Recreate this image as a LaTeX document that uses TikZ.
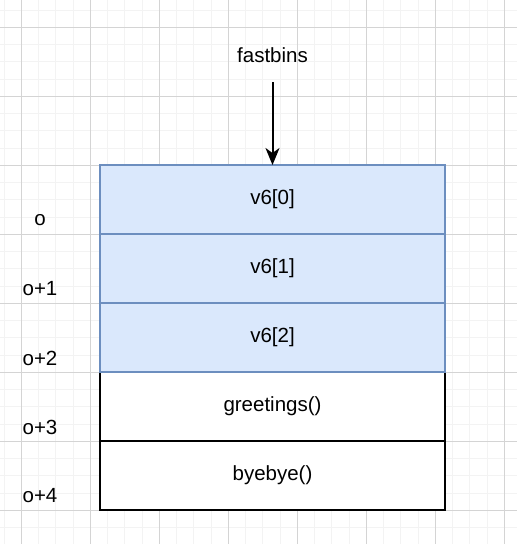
\documentclass[tikz,border=0pt]{standalone}
\usepackage{fontspec}
\setmainfont{Liberation Sans}
\usetikzlibrary{arrows.meta}

\definecolor{minorgrid}{HTML}{F3F3F3}
\definecolor{majorgrid}{HTML}{D4D4D4}
\definecolor{chunkfill}{HTML}{DAE8FC}
\definecolor{chunkline}{HTML}{6C8EBF}

\tikzset{
    txt/.style={font=\fontsize{20.5}{24}\selectfont},
    chunk/.style={txt, draw, line width=1.7pt, minimum width=345pt,
        minimum height=69pt, inner sep=0pt, outer sep=0pt},
    used/.style={chunk, fill=chunkfill, draw=chunkline},
    freed/.style={chunk, fill=white, draw=black},
}

\begin{document}
\begin{tikzpicture}[x=1pt,y=-1pt]
        \fill[white] (0,0) rectangle (517,544);
        \useasboundingbox (0,0) rectangle (517,544);
        % grid
        \foreach \i in {0,...,29} \draw[minorgrid, line width=1pt] (4.05+17.25*\i,0) -- (4.05+17.25*\i,544);
        \foreach \i in {0,...,30} \draw[minorgrid, line width=1pt] (0,10.05+17.25*\i) -- (517,10.05+17.25*\i);
        \foreach \i in {0,...,7} \draw[majorgrid, line width=1pt] (21.3+69*\i,0) -- (21.3+69*\i,544);
        \foreach \i in {0,...,7} \draw[majorgrid, line width=1pt] (0,27.3+69*\i) -- (517,27.3+69*\i);

        \node[freed] (greet) at (272.5,406.5) {greetings()};
        \node[freed] (bye) at (272.5,475.5) {byebye()};
        \node[used] (v0) at (272.5,199.5) {v6[0]};
        \node[used] (v1) at (272.5,268.5) {v6[1]};
        \node[used] (v2) at (272.5,337.5) {v6[2]};

        \node[txt] (fastbins) at (272.5,55) {fastbins};
        \coordinate (fbtail) at (272.5,82);
        \draw[line width=2pt, -{Stealth[length=17pt,width=14pt,inset=5pt]}] (fbtail) -- (v0.north);

        \node[txt] (o0) at (40,220) {o};
        \node[txt] (o1) at (40,289) {o+1};
        \node[txt] (o2) at (40,358) {o+2};
        \node[txt] (o3) at (40,427) {o+3};
        \node[txt] (o4) at (40,496) {o+4};
    \end{tikzpicture}
\end{document}
